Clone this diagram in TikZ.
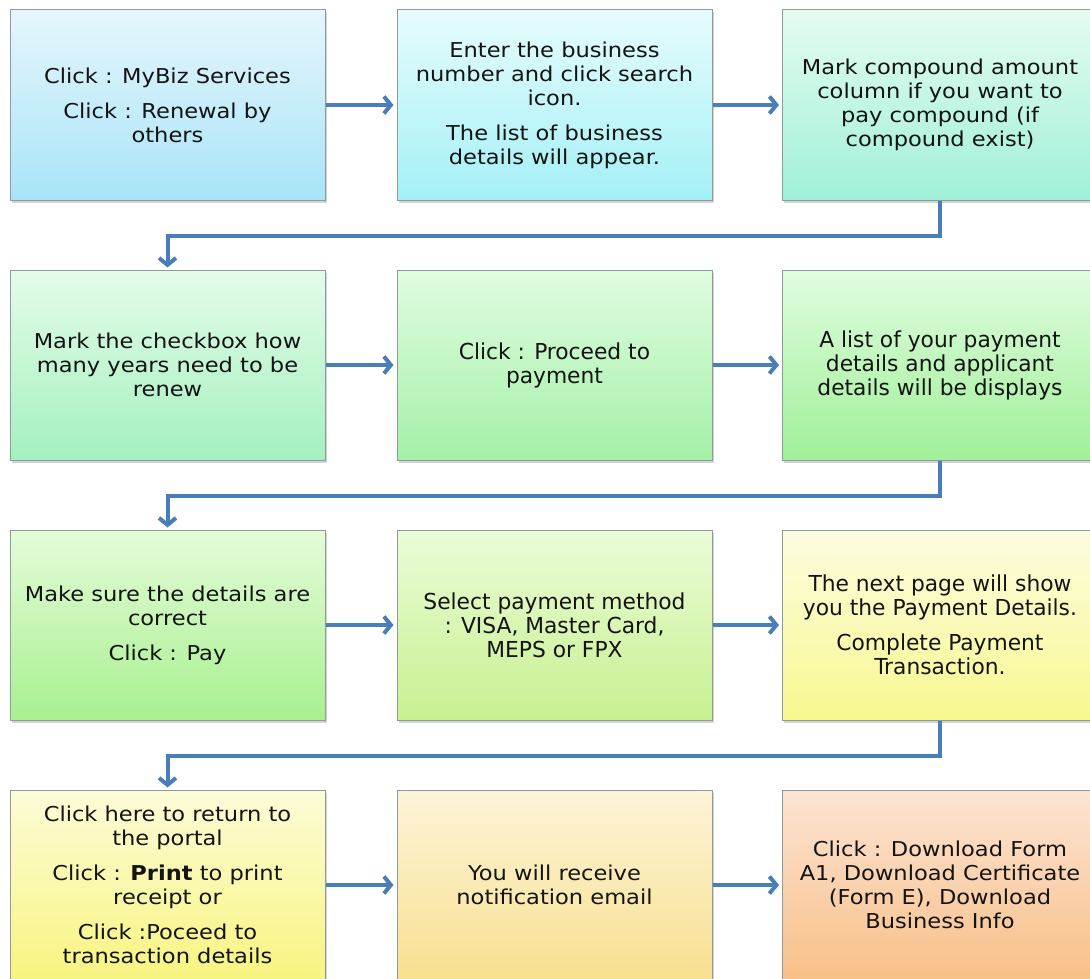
\documentclass[tikz,border=0pt]{standalone}
\usepackage{fontspec}
\setmainfont[FakeStretch=1.1]{DejaVu Sans}
\newfontfamily\condfont[FakeStretch=1.1]{DejaVu Sans Condensed}
\usetikzlibrary{arrows.meta,shadows}
\definecolor{conncol}{HTML}{4A7EBB}
\definecolor{edgecol}{HTML}{8C9C9C}
\definecolor{txtcol}{HTML}{141414}
\tikzset{
  box/.style={draw=edgecol, line width=1pt, minimum width=315pt, minimum height=190pt,
    align=center, text=txtcol, font=\fontsize{20.5}{24}\selectfont,
    drop shadow={opacity=0.35, shadow xshift=1.5pt, shadow yshift=-2.5pt}},
  condbox/.style={box, font=\condfont\fontsize{22}{24}\selectfont},
  conn/.style={draw=conncol, line width=4pt,
    -{Straight Barb[length=7pt,width=17pt]}},
}
\begin{document}
\begin{tikzpicture}[x=1pt,y=-1pt]
\useasboundingbox (0,0) rectangle (1090,979);
% row 1
\node[box, top color={rgb,255:red,230;green,246;blue,252}, bottom color={rgb,255:red,168;green,228;blue,248}] (b1) at (167.5,105)
  {Click : MyBiz Services\\[11pt]Click : Renewal by\\others};
\node[box, top color={rgb,255:red,230;green,252;blue,252}, bottom color={rgb,255:red,164;green,240;blue,246}] (b2) at (554.5,105)
  {Enter the business\\number and click search\\icon.\\[11pt]The list of business\\details will appear.};
\node[box, top color={rgb,255:red,228;green,252;blue,240}, bottom color={rgb,255:red,160;green,240;blue,216}] (b3) at (940,105)
  {Mark compound amount\\column if you want to\\pay compound (if\\compound exist)};
% row 2
\node[box, top color={rgb,255:red,228;green,252;blue,232}, bottom color={rgb,255:red,164;green,240;blue,192}] (b4) at (167.5,365)
  {Mark the checkbox how\\many years need to be\\renew};
\node[condbox, top color={rgb,255:red,224;green,252;blue,224}, bottom color={rgb,255:red,164;green,240;blue,168}] (b5) at (554.5,365)
  {Click : Proceed to\\payment};
\node[condbox, top color={rgb,255:red,224;green,252;blue,224}, bottom color={rgb,255:red,160;green,240;blue,152}] (b6) at (940,365)
  {A list of your payment\\details and applicant\\details will be displays};
% row 3
\node[box, top color={rgb,255:red,228;green,252;blue,216}, bottom color={rgb,255:red,168;green,240;blue,144}] (b7) at (167.5,625)
  {Make sure the details are\\correct\\[11pt]Click : Pay};
\node[condbox, top color={rgb,255:red,234;green,252;blue,216}, bottom color={rgb,255:red,200;green,240;blue,144}] (b8) at (554.5,625)
  {Select payment method\\: VISA, Master Card,\\MEPS or FPX};
\node[condbox, top color={rgb,255:red,252;green,252;blue,224}, bottom color={rgb,255:red,248;green,248;blue,144}] (b9) at (940,625)
  {The next page will show\\you the Payment Details.\\[11pt]Complete Payment\\Transaction.};
% row 4
\node[box, top color={rgb,255:red,252;green,252;blue,216}, bottom color={rgb,255:red,248;green,244;blue,128}] (b10) at (167.5,885)
  {Click here to return to\\the portal\\[11pt]Click : \textbf{Print} to print\\receipt or\\[11pt]Click :Poceed to\\transaction details};
\node[box, top color={rgb,255:red,252;green,244;blue,216}, bottom color={rgb,255:red,248;green,224;blue,144}] (b11) at (554.5,885)
  {You will receive\\notification email};
\node[box, top color={rgb,255:red,252;green,228;blue,212}, bottom color={rgb,255:red,248;green,192;blue,136}] (b12) at (940,885)
  {Click : Download Form\\A1, Download Certificate\\(Form E), Download\\Business Info};
% connectors
\draw[conn, shorten >=3pt] (b1.east) -- (b2.west);
\draw[conn, shorten >=3pt] (b2.east) -- (b3.west);
\draw[conn, shorten >=3pt] (b4.east) -- (b5.west);
\draw[conn, shorten >=3pt] (b5.east) -- (b6.west);
\draw[conn, shorten >=3pt] (b7.east) -- (b8.west);
\draw[conn, shorten >=3pt] (b8.east) -- (b9.west);
\draw[conn, shorten >=3pt] (b10.east) -- (b11.west);
\draw[conn, shorten >=3pt] (b11.east) -- (b12.west);
\draw[conn, shorten >=2pt] (b3.south) -- ++(0,35) -| (b4.north);
\draw[conn, shorten >=2pt] (b6.south) -- ++(0,35) -| (b7.north);
\draw[conn, shorten >=2pt] (b9.south) -- ++(0,35) -| (b10.north);
\end{tikzpicture}
\end{document}
